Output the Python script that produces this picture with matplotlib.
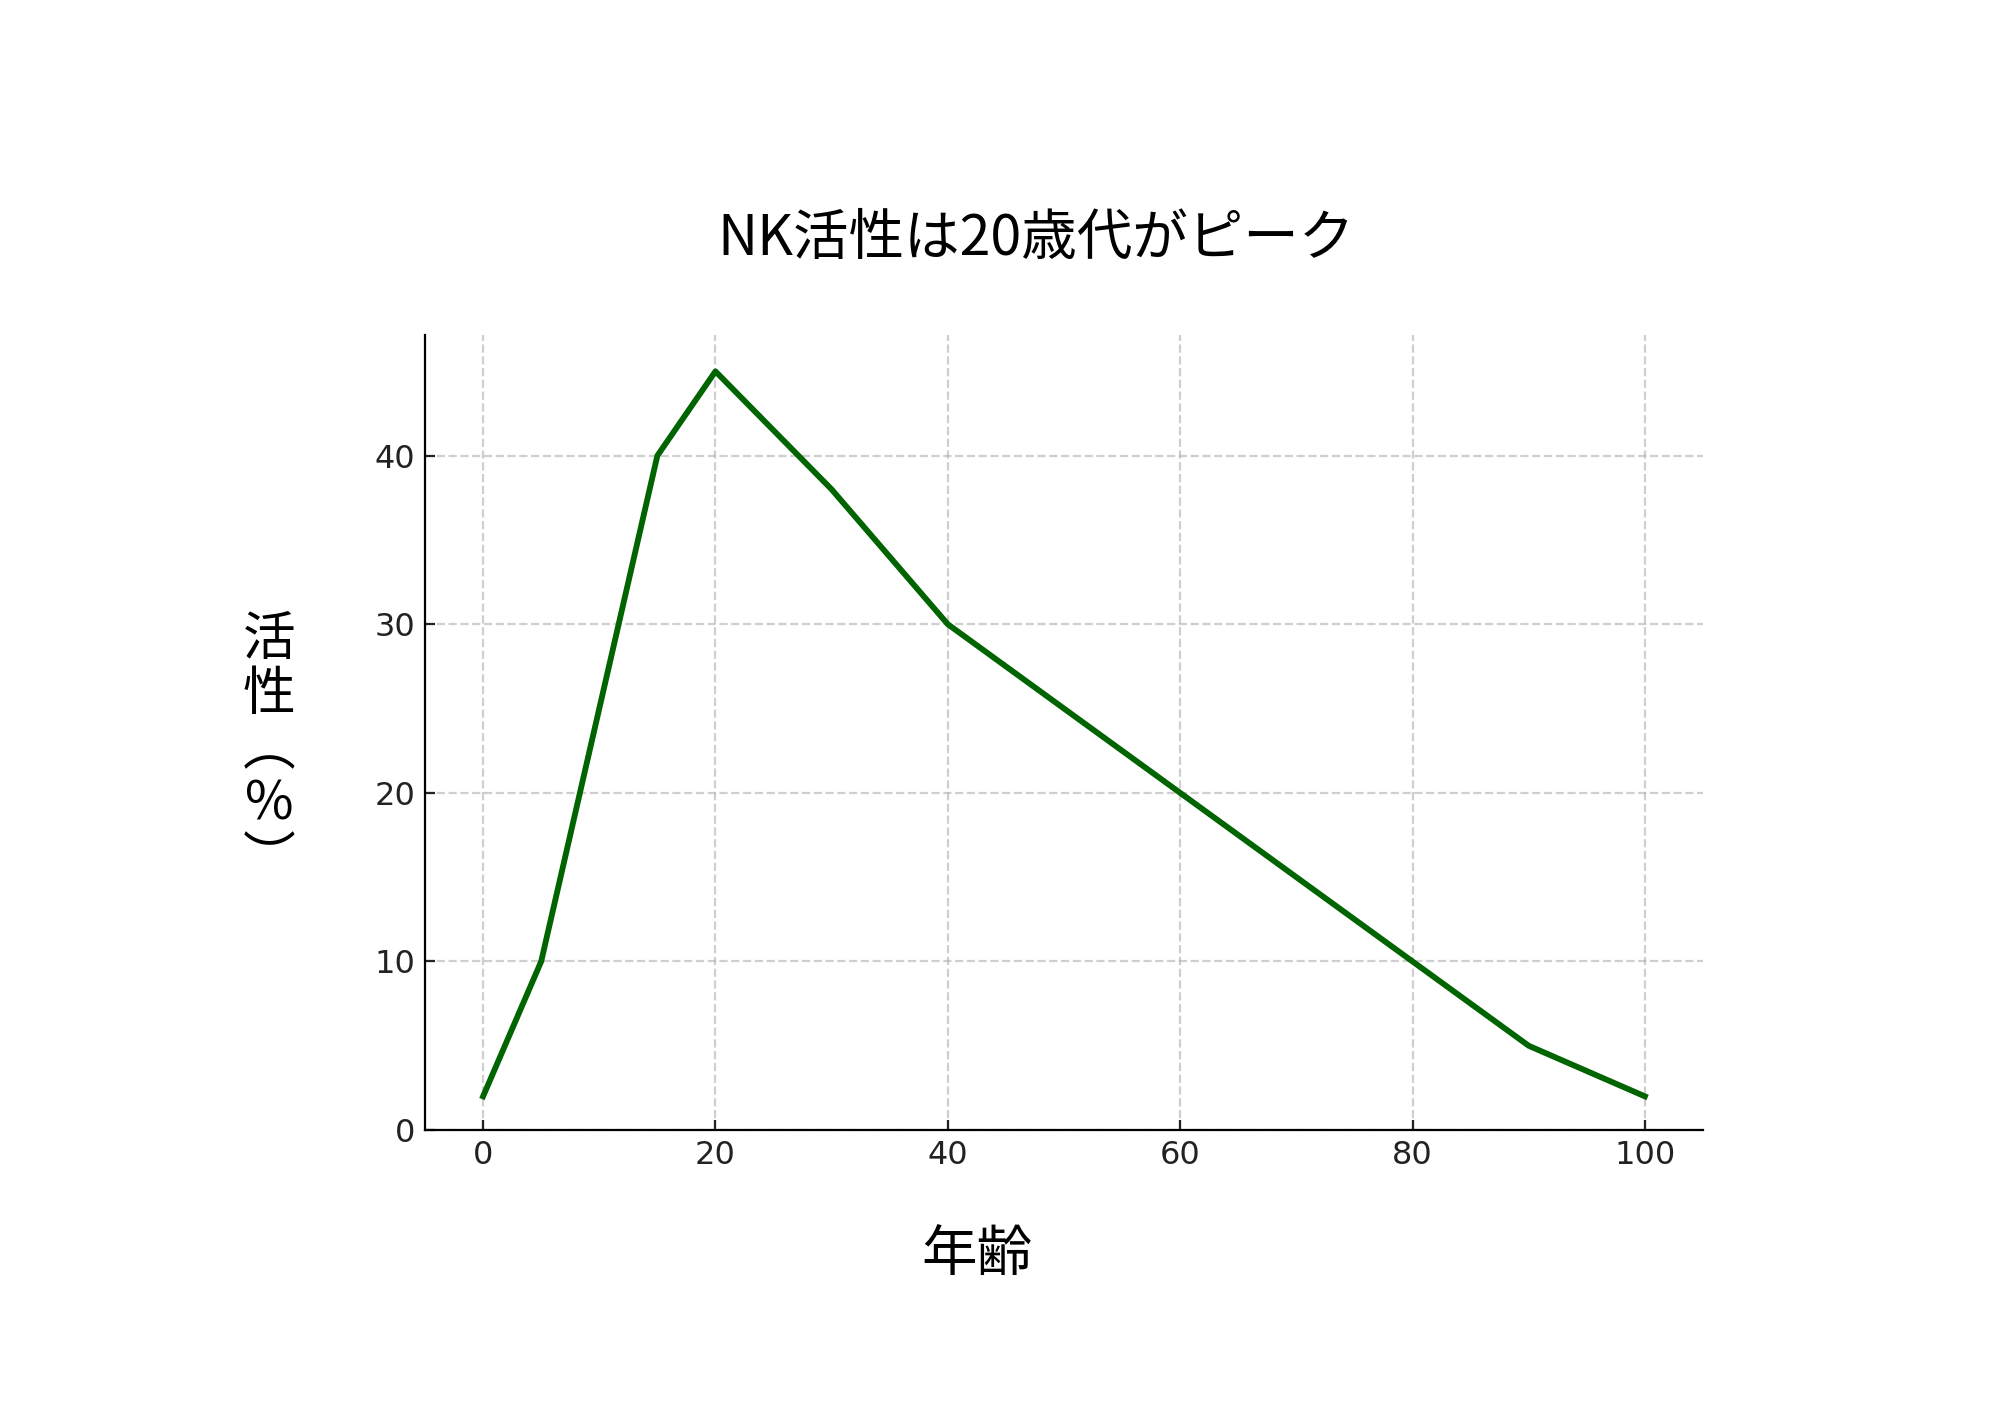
import matplotlib
matplotlib.use("Agg")
import matplotlib.pyplot as plt

# Data
ages = [0, 5, 15, 20, 30, 40, 60, 80, 90, 100]
nk_activity = [2, 10, 40, 45, 38, 30, 20, 10, 5, 2]
x_ticks = [0, 20, 40, 60, 80, 100]
y_ticks = [0, 10, 20, 30, 40]

title_text = "NK活性は20歳代がピーク"
xlabel_text = "年齢"
ylabel_text = "活\n性\n︵\n%\n︶"

cjk = ['Noto Sans CJK JP', 'DejaVu Sans']

fig = plt.figure(figsize=(10, 7.07), dpi=200)
ax = fig.add_axes([0.2125, 0.2008, 0.639, 0.5622])

ax.plot(ages, nk_activity, color='#006400', linewidth=2.1)
ax.set_ylim(bottom=0)
ax.set_xticks(x_ticks)
ax.set_yticks(y_ticks)

ax.grid(True, linestyle='--', color='#b0b0b0', alpha=0.6, linewidth=0.8)
ax.set_axisbelow(True)
for s in ['top', 'right']:
    ax.spines[s].set_visible(False)
ax.tick_params(direction='in', labelsize=11.5, colors='#222222')

ax.set_xlabel(xlabel_text, fontsize=20, family=cjk)
ax.xaxis.set_label_coords(0.432, -0.158)
ax.xaxis.label.set_va('center')

ax.set_ylabel(ylabel_text, fontsize=19, family=cjk, rotation=0,
              linespacing=1.0, ha='center', va='center')
ax.yaxis.set_label_coords(-0.122, 0.479)

fig.text(0.518, 0.831, title_text, fontsize=20, family=cjk,
         ha='center', va='center')

fig.savefig("out.png", dpi=200, facecolor='white')
